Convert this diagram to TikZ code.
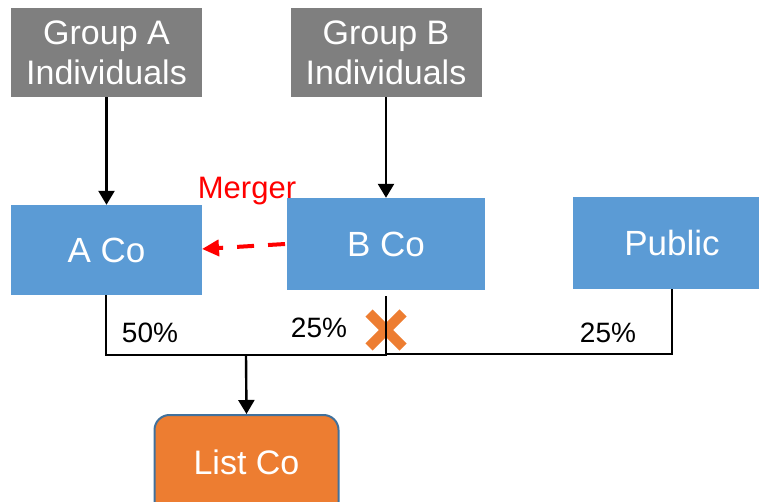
\documentclass[tikz,border=0pt]{standalone}
\usepackage{fontspec}
\setmainfont{Liberation Sans}
\usetikzlibrary{arrows.meta,calc}
\definecolor{grpgray}{HTML}{7F7F7F}
\definecolor{coblue}{HTML}{5B9BD5}
\definecolor{listorange}{HTML}{ED7D31}
\definecolor{listborder}{HTML}{41719C}
\tikzset{
  groupbox/.style={fill=grpgray, text=white, align=center, inner sep=0pt,
    minimum width=191pt, minimum height=89pt, font=\fontsize{34}{40}\selectfont},
  cobox/.style={fill=coblue, text=white, inner sep=0pt, font=\fontsize{35}{40}\selectfont},
  listbox/.style={fill=listorange, draw=listborder, line width=2pt, rounded corners=15pt,
    text=white, inner sep=0pt, font=\fontsize{34}{40}\selectfont},
  share/.style={black, line width=2.4pt},
  feed/.style={black, line width=2.4pt, -{Triangle[length=14pt,width=16pt]}},
  pct/.style={font=\fontsize{28}{30}\selectfont, inner sep=0pt},
  merger/.style={red, dash pattern=on 17pt off 14pt, line width=4pt,
    -{Triangle[length=17pt,width=16pt]}},
  cross/.style={listorange, line width=10pt}
}
\begin{document}
\begin{tikzpicture}[x=1pt, y=-1pt]
  \useasboundingbox (0,0) rectangle (759,502);

  % shareholder groups
  \node[groupbox] (ga) at (106.5,52.5) {Group A\\Individuals};
  \node[groupbox] (gb) at (386,52.5) {Group B\\Individuals};

  % companies
  \node[cobox, minimum width=191pt, minimum height=90pt] (aco) at (106.5,250) {A Co};
  \node[cobox, minimum width=198pt, minimum height=92pt] (bco) at (386,244) {B Co};
  \node[cobox, minimum width=198pt, minimum height=92pt] (pub) at (672,243) {Public};

  % listed company
  \node[listbox, minimum width=184pt, minimum height=110pt] (lco) at (246.5,470) {};
  \node[text=white, font=\fontsize{34}{40}\selectfont] (lcot) at (246.5,462) {List Co};

  % ownership of the companies
  \draw[feed] (ga.south) -- (aco.north);
  \draw[feed] (gb.south) -- (bco.north);

  % merger of B Co into A Co
  \coordinate (ms) at (285,244);
  \coordinate (me) at (202,249);
  \draw[merger] (ms) -- (me);
  \node[red, font=\fontsize{31}{34}\selectfont] (mlabel) at (247,191) {Merger};

  % cancelled holding of B Co
  \coordinate (xc) at (386,330);
  \draw[cross] ($(xc)+(-17,-17)$) -- ($(xc)+(17,17)$);
  \draw[cross] ($(xc)+(-17,17)$) -- ($(xc)+(17,-17)$);

  % shareholdings in List Co
  \coordinate (ja) at (106,355);
  \coordinate (jb) at (386,355);
  \coordinate (jbt) at (386,296);
  \coordinate (jp) at (672,354);
  \coordinate (jpm) at (386,354);
  \coordinate (jl) at (246,355);
  \draw[share] (aco.south -| ja) -- (ja) -- (jb) -- (jbt);
  \draw[share] (pub.south -| jp) -- (jp) -- (jpm);
  \draw[feed] (jl) -- (lco.north);

  \node[pct] (pa) at (150,333) {50\%};
  \node[pct] (pb) at (319,328) {25\%};
  \node[pct] (pp) at (608,333) {25\%};
\end{tikzpicture}
\end{document}
